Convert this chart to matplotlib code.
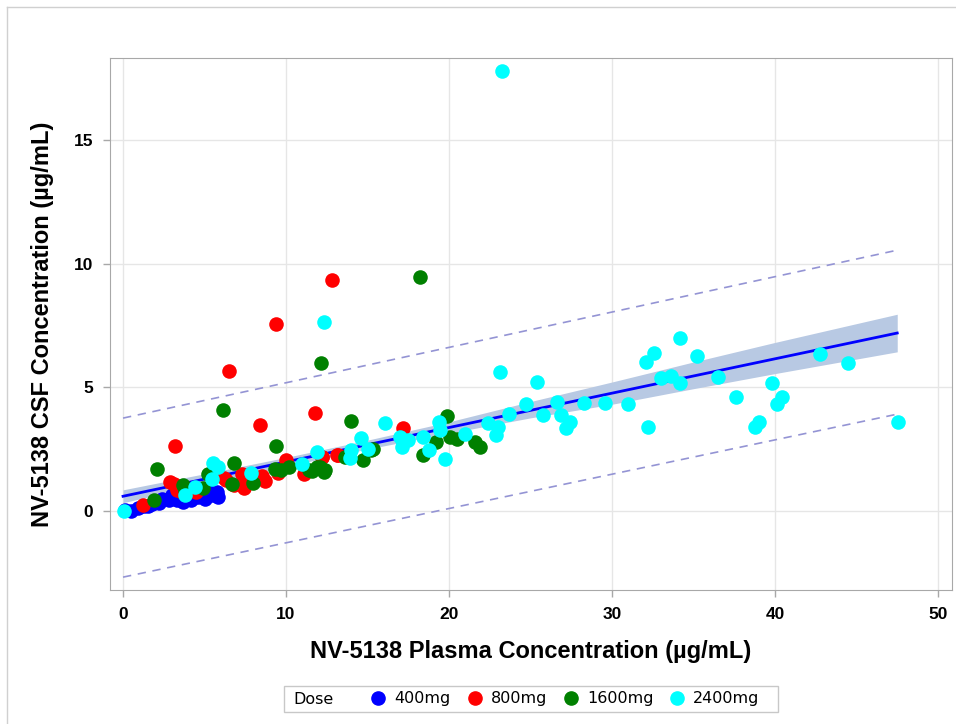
import matplotlib
matplotlib.use("Agg")
import matplotlib.pyplot as plt
from matplotlib.lines import Line2D
from matplotlib.patches import Rectangle

# dose groups, values
x_400 = [0.1, 0.5, 0.9, 1.3, 1.55, 1.8, 2.2, 2.4, 2.8, 3.0, 3.3, 3.7, 4.0, 4.2, 4.6, 5.0, 5.2, 5.45, 5.75, 5.8]
y_400 = [0.05, 0.02, 0.12, 0.2, 0.2, 0.3, 0.31, 0.5, 0.45, 0.65, 0.45, 0.38, 0.65, 0.45, 0.58, 0.5, 0.85, 0.65, 0.78, 0.55]

x_800 = [1.2, 2.9, 3.1, 3.2, 3.3, 3.6, 4.4, 4.5, 6.2, 6.3, 6.5, 6.8, 7.3, 7.4, 7.4, 8.4, 8.5, 8.7,
         9.4, 9.5, 10.0, 11.1, 11.8, 12.2, 12.2, 12.8, 13.1, 13.2, 17.2]
y_800 = [0.24, 1.19, 1.1, 2.64, 0.85, 0.78, 0.8, 0.78, 1.32, 1.25, 5.67, 1.05, 1.52, 1.25, 0.92, 3.48, 1.4, 1.2,
         7.56, 1.55, 2.06, 1.5, 3.95, 2.2, 2.17, 9.34, 2.26, 2.26, 3.38]

x_1600 = [1.9, 2.1, 3.7, 3.8, 4.9, 5.2, 6.15, 6.7, 6.8, 8.0, 9.3, 9.4, 9.7, 10.2, 11.4, 11.6, 11.9, 12.1,
          12.15, 12.3, 12.4, 13.6, 14.0, 14.75, 15.2, 15.35, 18.2, 18.4, 19.2, 19.85, 20.06, 20.5, 21.6, 21.9]
y_1600 = [0.44, 1.70, 1.05, 0.85, 0.92, 1.5, 4.08, 1.1, 1.95, 1.12, 1.7, 2.63, 1.68, 1.8, 1.66, 1.64, 1.79, 1.8,
          5.97, 1.59, 1.66, 2.2, 3.65, 2.06, 2.47, 2.53, 9.45, 2.26, 2.8, 3.84, 2.98, 2.9, 2.8, 2.6]

x_2400 = [0.05, 3.8, 4.4, 5.45, 5.55, 5.85, 7.85, 11.0, 11.9, 12.33, 13.9, 14.0, 14.6, 15.05, 16.1, 17.0,
          17.1, 17.2, 17.5, 18.4, 18.8, 19.4, 19.45, 19.75, 21.0, 22.4, 22.9, 23.0, 23.1, 23.25, 23.7,
          24.75, 25.4, 25.75, 26.6, 26.9, 27.2, 27.4, 28.3, 29.6, 31.0, 32.1, 32.2, 32.6, 33.0, 33.6,
          34.15, 34.2, 35.2, 36.5, 37.6, 38.8, 39.0, 39.8, 40.1, 40.45, 42.75, 44.5, 47.55]
y_2400 = [0.01, 0.65, 0.96, 1.3, 1.95, 1.79, 1.55, 1.92, 2.4, 7.65, 2.13, 2.47, 2.94, 2.53, 3.55, 3.0,
          2.6, 2.8, 2.87, 3.0, 2.49, 3.61, 3.27, 2.09, 3.11, 3.57, 3.07, 3.41, 5.62, 17.8, 3.92,
          4.33, 5.23, 3.88, 4.42, 3.88, 3.34, 3.61, 4.38, 4.38, 4.33, 6.01, 3.41, 6.40, 5.37, 5.46,
          7.01, 5.16, 6.27, 5.43, 4.62, 3.41, 3.61, 5.19, 4.35, 4.62, 6.34, 5.97, 3.59]

fit_x = [0, 47.5]
fit_y = [0.6, 7.2]
band_x = [0, 5, 10, 15, 20, 25, 30, 35, 40, 47.5]
band_lo = [0.34, 1.09, 1.81, 2.51, 3.15, 3.77, 4.32, 4.95, 5.56, 6.44]
band_hi = [0.86, 1.51, 2.17, 2.87, 3.61, 4.43, 5.22, 6.03, 6.82, 7.96]
pred_x = [0, 47.5]
pred_lo = [-2.67, 3.92]
pred_hi = [3.76, 10.55]

doses = ["400mg", "800mg", "1600mg", "2400mg"]
colors = ["#0000ff", "#ff0000", "#008000", "#00ffff"]

fig = plt.figure(figsize=(9.56, 7.24), dpi=100)
ax = fig.add_axes([110/956, (724-590)/724, (952-110)/956, (590-58)/724])

ax.fill_between(band_x, band_lo, band_hi, color="#b8c9e3", lw=0, zorder=1)
ax.plot(fit_x, fit_y, color="#0000ff", lw=2, zorder=2)
ax.plot(pred_x, pred_lo, color="#9494d4", lw=1.2, ls=(0, (5, 4)), zorder=2)
ax.plot(pred_x, pred_hi, color="#9494d4", lw=1.2, ls=(0, (5, 4)), zorder=2)

xs = [x_400, x_800, x_1600, x_2400]
ys = [y_400, y_800, y_1600, y_2400]
for i in range(4):
    ax.scatter(xs[i], ys[i], s=110, color=colors[i], lw=0, zorder=3 + i)

ax.set_xlim(-0.8, 50.86)
ax.set_ylim(-3.19, 18.32)
ax.set_xticks([0, 10, 20, 30, 40, 50])
ax.set_yticks([0, 5, 10, 15])
ax.grid(color="#e6e6e6", lw=1)
ax.set_axisbelow(True)
for sp in ax.spines.values():
    sp.set_color("#a8a8a8")
ax.tick_params(direction="out", length=5, width=1, color="#a8a8a8", pad=7)
for lab in ax.get_xticklabels() + ax.get_yticklabels():
    lab.set_fontfamily("Liberation Sans")
    lab.set_fontweight("bold")
    lab.set_fontsize(12.5)

ax.set_xlabel("NV-5138 Plasma Concentration (µg/mL)", fontfamily="Liberation Sans",
              fontweight="bold", fontsize=17, labelpad=13)
ax.set_ylabel("NV-5138 CSF Concentration (µg/mL)", fontfamily="Liberation Sans",
              fontweight="bold", fontsize=17, labelpad=14)

# legend row along the bottom
handles = [Line2D([], [], marker="o", ls="none", color=c, markersize=9.5) for c in colors]
fig.legend(handles, doses, loc="center", bbox_to_anchor=(565/956, 1 - 699/724), ncol=4,
           frameon=False, prop={"family": "DejaVu Sans", "size": 11.5},
           handlelength=1.0, handletextpad=0.5, columnspacing=1.0)
fig.text(293/956, 1 - 699/724, "Dose", family="DejaVu Sans", fontsize=11.5, va="center")
fig.patches.append(Rectangle((284/956, 1 - 712/724), (778-284)/956, 26/724,
                             transform=fig.transFigure, fill=False, ec="#c8c8c8", lw=1))

# outer frame (left and top edges)
fig.lines.append(Line2D([7/956, 7/956], [0, 1 - 7/724], transform=fig.transFigure, color="#d0d0d0", lw=1))
fig.lines.append(Line2D([7/956, 1], [1 - 7/724, 1 - 7/724], transform=fig.transFigure, color="#d0d0d0", lw=1))

fig.savefig("out.png", dpi=100)
